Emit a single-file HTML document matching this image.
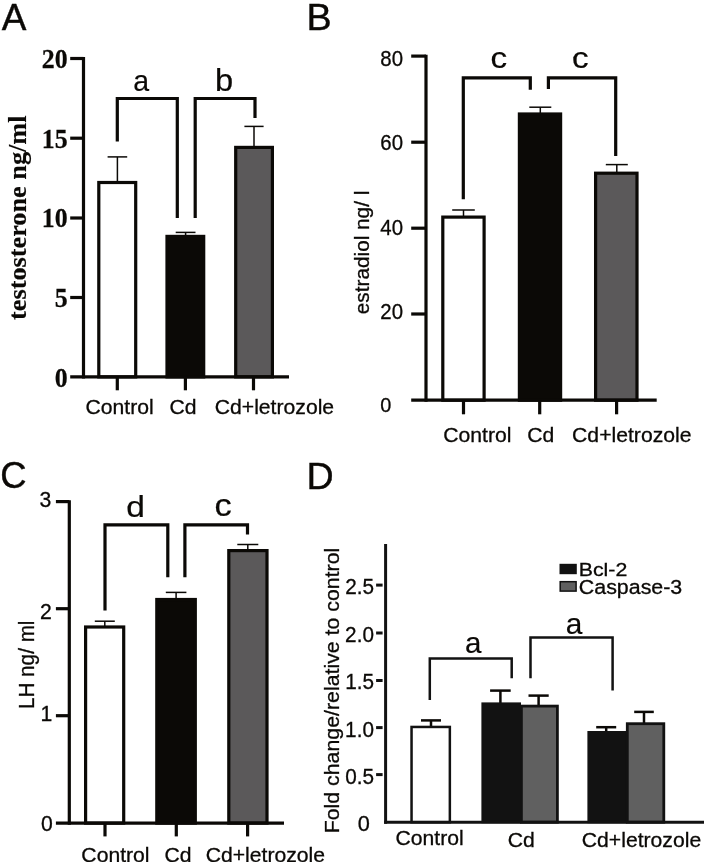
<!DOCTYPE html>
<html><head><meta charset="utf-8"><title>Figure</title>
<style>
html,body{margin:0;padding:0;background:#fff;}
body{width:708px;height:862px;overflow:hidden;font-family:"Liberation Sans",sans-serif;}
svg{display:block;}
</style></head><body>
<svg width="708" height="862" viewBox="0 0 708 862">
<defs><filter id="soft" x="0" y="0" width="708" height="862" filterUnits="userSpaceOnUse" color-interpolation-filters="sRGB"><feGaussianBlur stdDeviation="0.4"/></filter></defs>
<rect x="0" y="0" width="708" height="862" fill="#ffffff"/>
<g filter="url(#soft)">
<rect x="-10" y="-10" width="728" height="882" fill="#ffffff"/>
<text transform="translate(1.75,30) scale(1.0033,1)" font-family="Liberation Sans" font-size="36.8" font-weight="normal" fill="#0b0906" stroke="#0b0906" stroke-width="0.4">A</text>
<line x1="117.4" y1="156.9" x2="117.4" y2="182" stroke="#0b0906" stroke-width="1.5"/>
<line x1="107.6" y1="156.9" x2="127.2" y2="156.9" stroke="#0b0906" stroke-width="1.5"/>
<line x1="185.6" y1="232.4" x2="185.6" y2="236" stroke="#0b0906" stroke-width="1.5"/>
<line x1="175.7" y1="232.4" x2="195.5" y2="232.4" stroke="#0b0906" stroke-width="1.5"/>
<line x1="254" y1="126.4" x2="254" y2="147" stroke="#0b0906" stroke-width="1.5"/>
<line x1="244.4" y1="126.4" x2="263.6" y2="126.4" stroke="#0b0906" stroke-width="1.5"/>
<rect x="98.8" y="182.5" width="36.9" height="194.4" fill="#fff" stroke="#0b0906" stroke-width="3.2"/>
<rect x="167" y="236.4" width="36.7" height="140.5" fill="#0b0906" stroke="#0b0906" stroke-width="3.2"/>
<rect x="235.7" y="147.4" width="36.7" height="229.5" fill="#5b595a" stroke="#0b0906" stroke-width="3.2"/>
<line x1="83.5" y1="57" x2="83.5" y2="378.5" stroke="#0b0906" stroke-width="3.2"/>
<line x1="70.2" y1="376.9" x2="289" y2="376.9" stroke="#0b0906" stroke-width="3.2"/>
<line x1="70.2" y1="58.5" x2="83.5" y2="58.5" stroke="#0b0906" stroke-width="3.2"/>
<text transform="translate(41.83,68) scale(0.9750,1)" font-family="Liberation Serif" font-size="26.5" font-weight="bold" fill="#0b0906" stroke="#0b0906" stroke-width="0.25">20</text>
<line x1="70.2" y1="138.2" x2="83.5" y2="138.2" stroke="#0b0906" stroke-width="3.2"/>
<text transform="translate(41.83,148) scale(0.9750,1)" font-family="Liberation Serif" font-size="26.5" font-weight="bold" fill="#0b0906" stroke="#0b0906" stroke-width="0.25">15</text>
<line x1="70.2" y1="218" x2="83.5" y2="218" stroke="#0b0906" stroke-width="3.2"/>
<text transform="translate(41.83,227) scale(0.9750,1)" font-family="Liberation Serif" font-size="26.5" font-weight="bold" fill="#0b0906" stroke="#0b0906" stroke-width="0.25">10</text>
<line x1="70.2" y1="297.5" x2="83.5" y2="297.5" stroke="#0b0906" stroke-width="3.2"/>
<text transform="translate(54.75,307) scale(0.9750,1)" font-family="Liberation Serif" font-size="26.5" font-weight="bold" fill="#0b0906" stroke="#0b0906" stroke-width="0.25">5</text>
<text transform="translate(54.75,387) scale(0.9750,1)" font-family="Liberation Serif" font-size="26.5" font-weight="bold" fill="#0b0906" stroke="#0b0906" stroke-width="0.25">0</text>
<line x1="117.3" y1="376.9" x2="117.3" y2="390.3" stroke="#0b0906" stroke-width="3.2"/>
<line x1="185.4" y1="376.9" x2="185.4" y2="390.3" stroke="#0b0906" stroke-width="3.2"/>
<line x1="253.5" y1="376.9" x2="253.5" y2="390.3" stroke="#0b0906" stroke-width="3.2"/>
<path d="M117.3 141.5 V98.5 H177.3 V217.9" fill="none" stroke="#0b0906" stroke-width="3.2" stroke-linejoin="miter"/>
<path d="M195.2 217.9 V98.5 H255 V118" fill="none" stroke="#0b0906" stroke-width="3.2" stroke-linejoin="miter"/>
<text transform="translate(133.19,91) scale(0.9569,1)" font-family="Liberation Sans" font-size="29.77" font-weight="normal" fill="#0b0906" stroke="#0b0906" stroke-width="0.2">a</text>
<text transform="translate(214.88,91) scale(1.0531,1)" font-family="Liberation Sans" font-size="31.02" font-weight="normal" fill="#0b0906" stroke="#0b0906" stroke-width="0.2">b</text>
<text transform="translate(85.5,414) scale(1.0080,1)" font-family="Liberation Sans" font-size="21" font-weight="normal" fill="#0b0906" stroke="#0b0906" stroke-width="0.3">Control</text>
<text transform="translate(169.41,414) scale(1.0080,1)" font-family="Liberation Sans" font-size="21" font-weight="normal" fill="#0b0906" stroke="#0b0906" stroke-width="0.3">Cd</text>
<text transform="translate(214.73,414) scale(1.0080,1)" font-family="Liberation Sans" font-size="21" font-weight="normal" fill="#0b0906" stroke="#0b0906" stroke-width="0.3">Cd+letrozole</text>
<text transform="translate(26.3,319.99) rotate(-90) scale(1.0818,1)" font-family="Liberation Serif" font-size="24.3" font-weight="bold" fill="#0b0906" stroke="#0b0906" stroke-width="0.15">testosterone ng/ml</text>
<text transform="translate(306.49,30) scale(1.0257,1)" font-family="Liberation Sans" font-size="36.8" font-weight="normal" fill="#0b0906" stroke="#0b0906" stroke-width="0.4">B</text>
<line x1="463.5" y1="210" x2="463.5" y2="217" stroke="#0b0906" stroke-width="1.5"/>
<line x1="452.2" y1="210" x2="474.8" y2="210" stroke="#0b0906" stroke-width="1.5"/>
<line x1="540.3" y1="107.2" x2="540.3" y2="114" stroke="#0b0906" stroke-width="1.5"/>
<line x1="529.3" y1="107.2" x2="551.3" y2="107.2" stroke="#0b0906" stroke-width="1.5"/>
<line x1="616.8" y1="164.6" x2="616.8" y2="174" stroke="#0b0906" stroke-width="1.5"/>
<line x1="605.8" y1="164.6" x2="627.8" y2="164.6" stroke="#0b0906" stroke-width="1.5"/>
<rect x="442.8" y="217.1" width="41.3" height="183.1" fill="#fff" stroke="#0b0906" stroke-width="3.2"/>
<rect x="519.4" y="114" width="41.2" height="286.2" fill="#0b0906" stroke="#0b0906" stroke-width="3.2"/>
<rect x="595.6" y="173.2" width="41.4" height="227" fill="#5b595a" stroke="#0b0906" stroke-width="3.2"/>
<line x1="426" y1="54.7" x2="426" y2="401.8" stroke="#0b0906" stroke-width="3.2"/>
<line x1="411.2" y1="400.2" x2="656.7" y2="400.2" stroke="#0b0906" stroke-width="3.2"/>
<line x1="411.2" y1="56.1" x2="426" y2="56.1" stroke="#0b0906" stroke-width="3.2"/>
<text transform="translate(380.29,66) scale(0.9500,1)" font-family="Liberation Sans" font-size="21.5" font-weight="normal" fill="#0b0906" stroke="#0b0906" stroke-width="0.3">80</text>
<line x1="411.2" y1="142.2" x2="426" y2="142.2" stroke="#0b0906" stroke-width="3.2"/>
<text transform="translate(380.29,150) scale(0.9500,1)" font-family="Liberation Sans" font-size="21.5" font-weight="normal" fill="#0b0906" stroke="#0b0906" stroke-width="0.3">60</text>
<line x1="411.2" y1="228.2" x2="426" y2="228.2" stroke="#0b0906" stroke-width="3.2"/>
<text transform="translate(380.29,235) scale(0.9500,1)" font-family="Liberation Sans" font-size="21.5" font-weight="normal" fill="#0b0906" stroke="#0b0906" stroke-width="0.3">40</text>
<line x1="411.2" y1="314" x2="426" y2="314" stroke="#0b0906" stroke-width="3.2"/>
<text transform="translate(380.29,319) scale(0.9500,1)" font-family="Liberation Sans" font-size="21.5" font-weight="normal" fill="#0b0906" stroke="#0b0906" stroke-width="0.3">20</text>
<text transform="translate(380.3,412) scale(0.9641,1)" font-family="Liberation Sans" font-size="20.64" font-weight="normal" fill="#0b0906" stroke="#0b0906" stroke-width="0.3">0</text>
<line x1="463.5" y1="400.2" x2="463.5" y2="414.3" stroke="#0b0906" stroke-width="3.2"/>
<line x1="539.7" y1="400.2" x2="539.7" y2="414.3" stroke="#0b0906" stroke-width="3.2"/>
<line x1="616.6" y1="400.2" x2="616.6" y2="414.3" stroke="#0b0906" stroke-width="3.2"/>
<path d="M463.3 199.2 V77.8 H530.3 V89.7" fill="none" stroke="#0b0906" stroke-width="3.2" stroke-linejoin="miter"/>
<path d="M548.4 89 V77.8 H615.7 V156.1" fill="none" stroke="#0b0906" stroke-width="3.2" stroke-linejoin="miter"/>
<text transform="translate(490.39,68) scale(1.1597,1)" font-family="Liberation Sans" font-size="28.68" font-weight="normal" fill="#0b0906" stroke="#0b0906" stroke-width="0.2">c</text>
<text transform="translate(571.99,68) scale(1.1597,1)" font-family="Liberation Sans" font-size="28.68" font-weight="normal" fill="#0b0906" stroke="#0b0906" stroke-width="0.2">c</text>
<text transform="translate(443.3,442) scale(1.0080,1)" font-family="Liberation Sans" font-size="21" font-weight="normal" fill="#0b0906" stroke="#0b0906" stroke-width="0.3">Control</text>
<text transform="translate(527.31,442) scale(1.0080,1)" font-family="Liberation Sans" font-size="21" font-weight="normal" fill="#0b0906" stroke="#0b0906" stroke-width="0.3">Cd</text>
<text transform="translate(572.08,442) scale(1.0080,1)" font-family="Liberation Sans" font-size="21" font-weight="normal" fill="#0b0906" stroke="#0b0906" stroke-width="0.3">Cd+letrozole</text>
<text transform="translate(369.4,314.18) rotate(-90) scale(1.0087,1)" font-family="Liberation Sans" font-size="20.6" font-weight="normal" fill="#0b0906" stroke="#0b0906" stroke-width="0.3">estradiol ng/ l</text>
<text transform="translate(0.18,488) scale(0.9972,1)" font-family="Liberation Sans" font-size="36.47" font-weight="normal" fill="#0b0906" stroke="#0b0906" stroke-width="0.4">C</text>
<line x1="104.8" y1="621.2" x2="104.8" y2="627" stroke="#0b0906" stroke-width="1.5"/>
<line x1="94.8" y1="621.2" x2="114.8" y2="621.2" stroke="#0b0906" stroke-width="1.5"/>
<line x1="176.1" y1="592.4" x2="176.1" y2="600" stroke="#0b0906" stroke-width="1.5"/>
<line x1="165.8" y1="592.4" x2="186.4" y2="592.4" stroke="#0b0906" stroke-width="1.5"/>
<line x1="247.8" y1="544.5" x2="247.8" y2="551" stroke="#0b0906" stroke-width="1.5"/>
<line x1="237.3" y1="544.5" x2="258.3" y2="544.5" stroke="#0b0906" stroke-width="1.5"/>
<rect x="85.6" y="627" width="38.1" height="196.1" fill="#fff" stroke="#0b0906" stroke-width="3.2"/>
<rect x="156.8" y="599.5" width="38.5" height="223.6" fill="#0b0906" stroke="#0b0906" stroke-width="3.2"/>
<rect x="228.8" y="550.6" width="38.2" height="272.5" fill="#5b595a" stroke="#0b0906" stroke-width="3.2"/>
<line x1="69.3" y1="500.2" x2="69.3" y2="824.7" stroke="#0b0906" stroke-width="3.2"/>
<line x1="55.9" y1="823.1" x2="284" y2="823.1" stroke="#0b0906" stroke-width="3.2"/>
<line x1="55.9" y1="501.6" x2="69.3" y2="501.6" stroke="#0b0906" stroke-width="3.2"/>
<text transform="translate(39.53,507) scale(1.0000,1)" font-family="Liberation Sans" font-size="21.2" font-weight="normal" fill="#0b0906" stroke="#0b0906" stroke-width="0.3">3</text>
<line x1="55.9" y1="608.7" x2="69.3" y2="608.7" stroke="#0b0906" stroke-width="3.2"/>
<text transform="translate(39.89,619) scale(1.0000,1)" font-family="Liberation Sans" font-size="21.2" font-weight="normal" fill="#0b0906" stroke="#0b0906" stroke-width="0.3">2</text>
<line x1="55.9" y1="715.7" x2="69.3" y2="715.7" stroke="#0b0906" stroke-width="3.2"/>
<text transform="translate(40.44,721) scale(1.0000,1)" font-family="Liberation Sans" font-size="21.2" font-weight="normal" fill="#0b0906" stroke="#0b0906" stroke-width="0.3">1</text>
<text transform="translate(40.93,831) scale(1.0000,1)" font-family="Liberation Sans" font-size="21.2" font-weight="normal" fill="#0b0906" stroke="#0b0906" stroke-width="0.3">0</text>
<line x1="105" y1="823.1" x2="105" y2="836.4" stroke="#0b0906" stroke-width="3.2"/>
<line x1="176.3" y1="823.1" x2="176.3" y2="836.4" stroke="#0b0906" stroke-width="3.2"/>
<line x1="247.6" y1="823.1" x2="247.6" y2="836.4" stroke="#0b0906" stroke-width="3.2"/>
<path d="M105 610.4 V524.8 H167.8 V577.2" fill="none" stroke="#0b0906" stroke-width="3.2" stroke-linejoin="miter"/>
<path d="M184.9 577.2 V524.8 H247.5 V534.5" fill="none" stroke="#0b0906" stroke-width="3.2" stroke-linejoin="miter"/>
<text transform="translate(126.37,517) scale(1.1313,1)" font-family="Liberation Sans" font-size="29.66" font-weight="normal" fill="#0b0906" stroke="#0b0906" stroke-width="0.2">d</text>
<text transform="translate(214.54,516) scale(1.1217,1)" font-family="Liberation Sans" font-size="30.68" font-weight="normal" fill="#0b0906" stroke="#0b0906" stroke-width="0.2">c</text>
<text transform="translate(81.35,862) scale(1.0080,1)" font-family="Liberation Sans" font-size="21" font-weight="normal" fill="#0b0906" stroke="#0b0906" stroke-width="0.3">Control</text>
<text transform="translate(164.41,862) scale(1.0080,1)" font-family="Liberation Sans" font-size="21" font-weight="normal" fill="#0b0906" stroke="#0b0906" stroke-width="0.3">Cd</text>
<text transform="translate(205.68,862) scale(1.0080,1)" font-family="Liberation Sans" font-size="21" font-weight="normal" fill="#0b0906" stroke="#0b0906" stroke-width="0.3">Cd+letrozole</text>
<text transform="translate(34.3,709.11) rotate(-90) scale(0.9410,1)" font-family="Liberation Sans" font-size="22" font-weight="normal" fill="#0b0906" stroke="#0b0906" stroke-width="0.3">LH ng/ ml</text>
<text transform="translate(306.39,489) scale(1.0029,1)" font-family="Liberation Sans" font-size="37.53" font-weight="normal" fill="#0b0906" stroke="#0b0906" stroke-width="0.4">D</text>
<line x1="431" y1="720.4" x2="431" y2="727" stroke="#0b0906" stroke-width="2.5"/>
<line x1="421" y1="720.4" x2="441" y2="720.4" stroke="#0b0906" stroke-width="2.5"/>
<line x1="500.4" y1="690.6" x2="500.4" y2="704" stroke="#0b0906" stroke-width="2.5"/>
<line x1="490.1" y1="690.6" x2="510.7" y2="690.6" stroke="#0b0906" stroke-width="2.5"/>
<line x1="538.6" y1="695.6" x2="538.6" y2="706" stroke="#0b0906" stroke-width="2.5"/>
<line x1="528.5" y1="695.6" x2="548.7" y2="695.6" stroke="#0b0906" stroke-width="2.5"/>
<line x1="606.2" y1="727.2" x2="606.2" y2="732" stroke="#0b0906" stroke-width="2.5"/>
<line x1="596.2" y1="727.2" x2="616.2" y2="727.2" stroke="#0b0906" stroke-width="2.5"/>
<line x1="644" y1="711.9" x2="644" y2="724" stroke="#0b0906" stroke-width="2.5"/>
<line x1="634.2" y1="711.9" x2="653.8" y2="711.9" stroke="#0b0906" stroke-width="2.5"/>
<rect x="411.55" y="726.95" width="38.3" height="95.25" fill="#fff" stroke="#121212" stroke-width="2.5"/>
<rect x="482.4" y="703.4" width="37.6" height="118.8" fill="#121212" stroke="#121212" stroke-width="2"/>
<rect x="521.4" y="706.1" width="36" height="116.1" fill="#606060" stroke="#121212" stroke-width="2.8"/>
<rect x="588.4" y="732" width="37.6" height="90.2" fill="#121212" stroke="#121212" stroke-width="2"/>
<rect x="627.3" y="723.7" width="36.5" height="98.5" fill="#606060" stroke="#121212" stroke-width="2.8"/>
<line x1="385.6" y1="544" x2="385.6" y2="823.7" stroke="#121212" stroke-width="3.0"/>
<line x1="384.1" y1="822.2" x2="704" y2="822.2" stroke="#121212" stroke-width="3.0"/>
<line x1="376.1" y1="585.1" x2="382.6" y2="585.1" stroke="#121212" stroke-width="3.0"/>
<text transform="translate(345.18,594) scale(0.9700,1)" font-family="Liberation Sans" font-size="21.4" font-weight="normal" fill="#0b0906" stroke="#0b0906" stroke-width="0.3">2.5</text>
<line x1="376.1" y1="633" x2="382.6" y2="633" stroke="#121212" stroke-width="3.0"/>
<text transform="translate(345.12,642) scale(0.9700,1)" font-family="Liberation Sans" font-size="21.4" font-weight="normal" fill="#0b0906" stroke="#0b0906" stroke-width="0.3">2.0</text>
<line x1="376.1" y1="680.5" x2="382.6" y2="680.5" stroke="#121212" stroke-width="3.0"/>
<text transform="translate(345.18,689) scale(0.9700,1)" font-family="Liberation Sans" font-size="21.4" font-weight="normal" fill="#0b0906" stroke="#0b0906" stroke-width="0.3">1.5</text>
<line x1="376.1" y1="727.6" x2="382.6" y2="727.6" stroke="#121212" stroke-width="3.0"/>
<text transform="translate(345.12,737) scale(0.9700,1)" font-family="Liberation Sans" font-size="21.4" font-weight="normal" fill="#0b0906" stroke="#0b0906" stroke-width="0.3">1.0</text>
<line x1="376.1" y1="774.6" x2="382.6" y2="774.6" stroke="#121212" stroke-width="3.0"/>
<text transform="translate(345.18,784) scale(0.9700,1)" font-family="Liberation Sans" font-size="21.4" font-weight="normal" fill="#0b0906" stroke="#0b0906" stroke-width="0.3">0.5</text>
<text transform="translate(357.73,831) scale(0.9815,1)" font-family="Liberation Sans" font-size="22.19" font-weight="normal" fill="#0b0906" stroke="#0b0906" stroke-width="0.3">0</text>
<path d="M429.8 699.9 V658.6 H511.7 V678.3" fill="none" stroke="#121212" stroke-width="2.5" stroke-linejoin="miter"/>
<path d="M530.5 678.3 V637.5 H612.6 V690.4" fill="none" stroke="#121212" stroke-width="2.5" stroke-linejoin="miter"/>
<text transform="translate(465.05,653) scale(0.9896,1)" font-family="Liberation Sans" font-size="29.77" font-weight="normal" fill="#0b0906" stroke="#0b0906" stroke-width="0.2">a</text>
<text transform="translate(565.73,634) scale(1.0028,1)" font-family="Liberation Sans" font-size="29.77" font-weight="normal" fill="#0b0906" stroke="#0b0906" stroke-width="0.2">a</text>
<rect x="559.5" y="563.8" width="17.3" height="10.4" fill="#121212"/>
<rect x="560.2" y="581.7" width="15.9" height="9.4" fill="#606060" stroke="#121212" stroke-width="1.5"/>
<text transform="translate(578.64,576) scale(1.1299,1)" font-family="Liberation Sans" font-size="18.9" font-weight="normal" fill="#0b0906" stroke="#0b0906" stroke-width="0.3">Bcl-2</text>
<text transform="translate(578.83,594) scale(1.0663,1)" font-family="Liberation Sans" font-size="20.07" font-weight="normal" fill="#0b0906" stroke="#0b0906" stroke-width="0.3">Caspase-3</text>
<text transform="translate(395.5,845) scale(1.0080,1)" font-family="Liberation Sans" font-size="21" font-weight="normal" fill="#0b0906" stroke="#0b0906" stroke-width="0.3">Control</text>
<text transform="translate(507.81,847) scale(1.0080,1)" font-family="Liberation Sans" font-size="21" font-weight="normal" fill="#0b0906" stroke="#0b0906" stroke-width="0.3">Cd</text>
<text transform="translate(581.78,847) scale(1.0080,1)" font-family="Liberation Sans" font-size="21" font-weight="normal" fill="#0b0906" stroke="#0b0906" stroke-width="0.3">Cd+letrozole</text>
<text transform="translate(339.4,833.26) rotate(-90) scale(1.0302,1)" font-family="Liberation Sans" font-size="20.7" font-weight="normal" fill="#0b0906" stroke="#0b0906" stroke-width="0.3">Fold change/relative to control</text>
</g>
</svg>
</body></html>
